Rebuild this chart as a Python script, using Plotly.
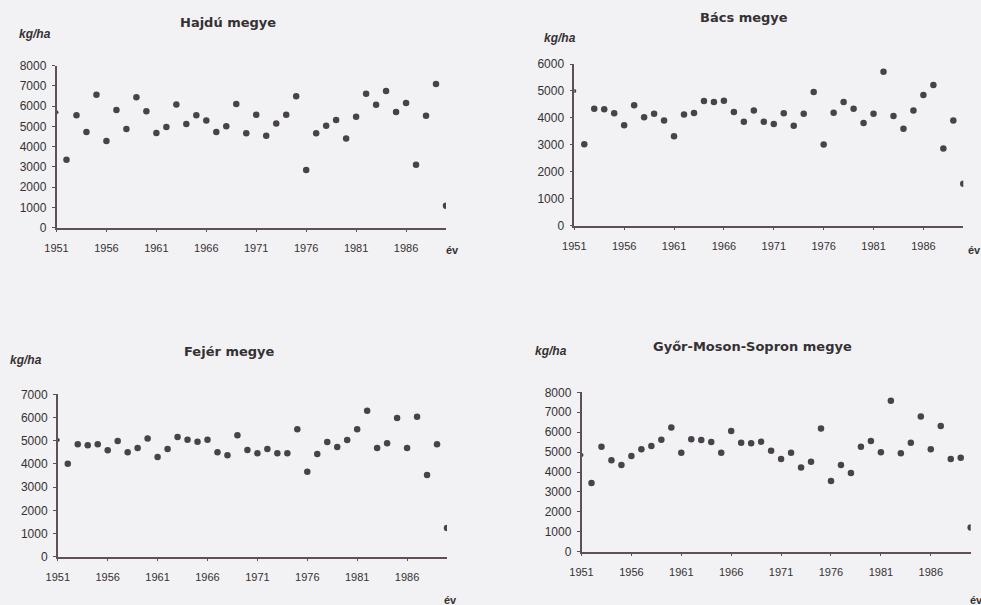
import plotly.graph_objects as go

# Years of observation (1951-1990)
years = list(range(1951, 1991))

# Yields in kg/ha for each county
hajdu = [5700, 3350, 5550, 4730, 6570, 4280, 5810, 4870, 6440, 5750,
         4680, 4970, 6090, 5120, 5550, 5290, 4730, 5010, 6110, 4660,
         5580, 4540, 5140, 5580, 6490, 2850, 4660, 5040, 5320, 4400,
         5480, 6620, 6070, 6750, 5710, 6160, 3110, 5530, 7100, 1090]

bacs = [5000, 3020, 4340, 4320, 4170, 3730, 4470, 4020, 4150, 3900,
        3320, 4130, 4180, 4630, 4590, 4640, 4220, 3860, 4270, 3860,
        3770, 4170, 3710, 4150, 4960, 3010, 4190, 4590, 4340, 3810,
        4150, 5710, 4070, 3600, 4270, 4850, 5220, 2860, 3900, 1560]

fejer = [5030, 4010, 4850, 4800, 4850, 4590, 4990, 4500, 4690, 5100,
         4300, 4640, 5160, 5040, 4960, 5040, 4500, 4370, 5230, 4600,
         4460, 4640, 4460, 4460, 5490, 3660, 4430, 4940, 4730, 5030,
         5490, 6290, 4690, 4890, 5980, 4680, 6030, 3520, 4850, 1240]

gyor = [4850, 3450, 5270, 4590, 4350, 4800, 5140, 5310, 5620, 6230,
        4970, 5640, 5610, 5510, 4970, 6060, 5470, 5440, 5520, 5070,
        4650, 4970, 4230, 4520, 6180, 3550, 4350, 3950, 5270, 5560,
        4990, 7570, 4940, 5470, 6780, 5140, 6310, 4650, 4720, 1220]

titles = ["Hajdú megye", "Bács megye", "Fejér megye", "Győr-Moson-Sopron megye"]
y_max = [8000, 6000, 7000, 8000]
x_ticks = [1951, 1956, 1961, 1966, 1971, 1976, 1981, 1986]

W, H = 981, 605
INK = "#353133"
AXIS = "#5f5058"
DOT = "#48434a"
BG = "#f2f2f4"
FONT = "Liberation Sans, Arial, sans-serif"
TITLE_FONT = "DejaVu Sans, Liberation Sans, sans-serif"

# Plot-area boxes in pixels: (left, right, bottom, top)
boxes = [
    (56.5, 446.0, 227.7, 65.7),
    (574.3, 963.3, 225.7, 64.0),
    (57.8, 447.0, 556.7, 394.3),
    (581.5, 970.7, 551.7, 392.3),
]

series = [hajdu, bacs, fejer, gyor]

fig = go.Figure()
layout = dict(
    width=W, height=H,
    margin=dict(l=0, r=0, t=0, b=0, pad=0, autoexpand=False),
    paper_bgcolor=BG, plot_bgcolor=BG,
    showlegend=False,
    font=dict(family=FONT, color=INK, size=12),
)

for i, (vals, box, ymax) in enumerate(zip(series, boxes, y_max)):
    n = "" if i == 0 else str(i + 1)
    xa, ya = "x" + n, "y" + n
    l, r, b, t = box
    layout["xaxis" + n] = dict(
        domain=[l / W, r / W], range=[1951, 1990], anchor=ya,
        tickvals=x_ticks, ticks="outside", ticklen=3, tickwidth=1,
        tickcolor=AXIS, showline=True, linecolor=AXIS, linewidth=1.5,
        showgrid=False, zeroline=False, ticklabelstandoff=6,
        automargin=False,
        tickfont=dict(family=FONT, size=11, color=INK),
    )
    layout["yaxis" + n] = dict(
        domain=[1 - b / H, 1 - t / H], range=[0, ymax], anchor=xa,
        dtick=1000, ticks="outside", ticklen=3, tickwidth=1,
        tickcolor=AXIS, showline=True, linecolor=AXIS, linewidth=1.5,
        showgrid=False, zeroline=False, ticklabelstandoff=3,
        tickformat="d", automargin=False,
        tickfont=dict(family=FONT, size=12, color=INK),
    )
    # The first year sits on the value axis, so its dot is mostly hidden by it
    fig.add_trace(go.Scatter(
        x=years[:1], y=vals[:1], mode="markers", xaxis=xa, yaxis=ya,
        marker=dict(size=4, color=DOT, symbol="circle"),
    ))
    fig.add_trace(go.Scatter(
        x=years[1:], y=vals[1:], mode="markers", xaxis=xa, yaxis=ya,
        marker=dict(size=6.5, color=DOT, symbol="circle"),
    ))

fig.update_layout(**layout)

# Panel titles, unit labels and axis names (pixel positions)
def note(text, x, y, size, italic=False, xanchor="center", family=FONT):
    fig.add_annotation(
        text=text, x=x / W, y=1 - y / H, xref="paper", yref="paper",
        showarrow=False, xanchor=xanchor, yanchor="middle",
        font=dict(family=family, size=size, color=INK, weight="bold",
                  style="italic" if italic else "normal"),
    )

title_pos = [(228, 22), (744, 17), (229, 351), (752, 346)]
unit_pos = [(35, 34), (560, 38), (26, 360), (551, 351)]
ev_pos = [(452, 250), (974, 250), (450, 600), (968, 600)]

for k in range(4):
    note(titles[k], *title_pos[k], 13, family=TITLE_FONT)
    note("kg/ha", *unit_pos[k], 12, italic=True)
    ex, ey = ev_pos[k]
    note("év", ex, ey, 11, xanchor="left" if k == 3 else "center")

fig.write_html("out.html")
